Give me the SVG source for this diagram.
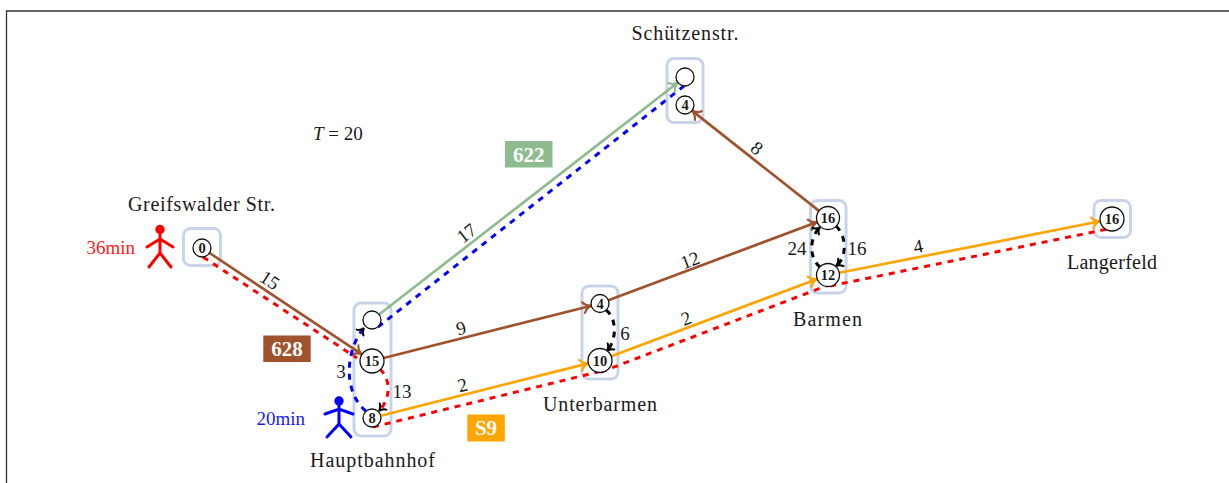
<svg xmlns="http://www.w3.org/2000/svg" width="1229" height="483" viewBox="0 0 1229 483">
<style>
  text { font-family: "Liberation Serif", "Times New Roman", serif; fill: #1a1a1a; }
  .st { font-size: 20px; text-anchor: middle; }
  .el { font-size: 19px; text-anchor: middle; }
  .nl { font-size: 14.5px; font-weight: bold; text-anchor: middle; }
  .tag { font-size: 21px; font-weight: bold; text-anchor: middle; fill: #ffffff; }
  .box { fill: none; stroke: #c8d5e9; stroke-width: 3; }
  .nd { fill: #ffffff; stroke: #111111; stroke-width: 1.3; }
  .brown { stroke: #a0522d; stroke-width: 2.7; fill: none; marker-end: url(#ah-brown); }
  .green { stroke: #8fbc8f; stroke-width: 2.7; fill: none; marker-end: url(#ah-green); }
  .orange { stroke: #ffa500; stroke-width: 2.7; fill: none; marker-end: url(#ah-orange); }
  .rdash { stroke: #ff0000; stroke-width: 3; fill: none; stroke-dasharray: 6 6; }
  .bdash { stroke: #0000ff; stroke-width: 3; fill: none; stroke-dasharray: 6 6; }
  .kdash { stroke: #000000; stroke-width: 3; fill: none; stroke-dasharray: 6 6; }
  .arcarrow { marker-end: url(#ah-black); }
  .fig { stroke-width: 3; fill: none; stroke-linecap: round; }
</style>
<defs>
  <marker id="ah-brown" viewBox="-10 -8 12 16" refX="0" refY="0" markerWidth="12" markerHeight="16" markerUnits="userSpaceOnUse" orient="auto">
    <path d="M-8,-5.5 C-6,-2 -3,-0.6 0,0 C-3,0.6 -6,2 -8,5.5" fill="none" stroke="#a0522d" stroke-width="2.2" stroke-linecap="round"/>
  </marker>
  <marker id="ah-green" viewBox="-10 -8 12 16" refX="0" refY="0" markerWidth="12" markerHeight="16" markerUnits="userSpaceOnUse" orient="auto">
    <path d="M-8,-5.5 C-6,-2 -3,-0.6 0,0 C-3,0.6 -6,2 -8,5.5" fill="none" stroke="#8fbc8f" stroke-width="2.2" stroke-linecap="round"/>
  </marker>
  <marker id="ah-orange" viewBox="-10 -8 12 16" refX="0" refY="0" markerWidth="12" markerHeight="16" markerUnits="userSpaceOnUse" orient="auto">
    <path d="M-8,-5.5 C-6,-2 -3,-0.6 0,0 C-3,0.6 -6,2 -8,5.5" fill="none" stroke="#ffa500" stroke-width="2.2" stroke-linecap="round"/>
  </marker>
  <marker id="ah-black" viewBox="-10 -8 12 16" refX="0" refY="0" markerWidth="12" markerHeight="16" markerUnits="userSpaceOnUse" orient="auto">
    <path d="M-6,-4.5 C-4.5,-1.5 -2.5,-0.5 0,0 C-2.5,0.5 -4.5,1.5 -6,4.5" fill="none" stroke="#000000" stroke-width="2" stroke-linecap="round"/>
  </marker>
</defs>

<rect width="1229" height="483" fill="#ffffff"/>
<path d="M6.5,490 V11 H1240" fill="none" stroke="#333333" stroke-width="1.3"/>

<g id="station-boxes">
  <rect id="box-greifswalder" class="box" x="183.5" y="228.5" width="37" height="37" rx="7"/>
  <rect id="box-hauptbahnhof" class="box" x="354" y="303" width="37" height="133" rx="7"/>
  <rect id="box-unterbarmen" class="box" x="582" y="286" width="36" height="93" rx="7"/>
  <rect id="box-barmen" class="box" x="810.5" y="200.5" width="35.5" height="92.5" rx="7"/>
  <rect id="box-schuetzenstr" class="box" x="667" y="58.5" width="36" height="64" rx="7"/>
  <rect id="box-langerfeld" class="box" x="1094" y="200.5" width="36.5" height="37" rx="7"/>
</g>

<g id="connectors">
  <line class="rdash" x1="203" y1="257" x2="357" y2="358"/>
  <line class="rdash" x1="373" y1="427" x2="598" y2="372"/>
  <line class="rdash" x1="601" y1="372" x2="826" y2="286"/>
  <line class="rdash" x1="830" y1="286" x2="1108" y2="229"/>
  <line class="bdash" x1="378" y1="327" x2="684" y2="86"/>
  <line class="brown" x1="209.5" y1="253" x2="362" y2="354.4"/>
  <line class="brown" x1="383.6" y1="358" x2="591.3" y2="305.7"/>
  <line class="brown" x1="608.4" y1="300.3" x2="817.2" y2="222"/>
  <line class="brown" x1="819" y1="210.9" x2="692" y2="110.6"/>
  <line class="green" x1="379.1" y1="314.5" x2="677.9" y2="82.5"/>
  <line class="orange" x1="380.7" y1="415.8" x2="588.4" y2="363.4"/>
  <line class="orange" x1="611.2" y1="356.3" x2="817.2" y2="279"/>
  <line class="orange" x1="839.3" y1="272.8" x2="1100.2" y2="221.3"/>
  <path class="bdash arcarrow" d="M366,411 C343,393 345,350 364,328"/>
  <path class="rdash arcarrow" d="M380,369 C391,380 391,398 379,411"/>
  <path class="kdash arcarrow" d="M606,310 C617,318 617,340 607,351"/>
  <path class="kdash arcarrow" d="M820,267 C809,258 809,238 820,227"/>
  <path class="kdash arcarrow" d="M836,226 C847,236 847,258 836,266"/>
  <text class="el" transform="translate(270,280) rotate(33.6)" dy="0.35em">15</text>
  <text class="el" transform="translate(466.5,233) rotate(-37.8)" dy="0.35em">17</text>
  <text class="el" transform="translate(757,148) rotate(38.3)" dy="0.35em">8</text>
  <text class="el" transform="translate(461,328) rotate(-14.2)" dy="0.35em">9</text>
  <text class="el" transform="translate(690,260) rotate(-20.6)" dy="0.35em">12</text>
  <text class="el" transform="translate(462.5,385) rotate(-14.2)" dy="0.35em">2</text>
  <text class="el" transform="translate(686,318) rotate(-20.6)" dy="0.35em">2</text>
  <text class="el" transform="translate(918,246) rotate(-11.2)" dy="0.35em">4</text>
  <text class="el" x="341" y="371" dy="0.35em">3</text>
  <text class="el" x="402" y="391" dy="0.35em">13</text>
  <text class="el" x="625" y="333" dy="0.35em">6</text>
  <text class="el" x="797" y="248" dy="0.35em">24</text>
  <text class="el" x="857" y="248" dy="0.35em">16</text>
  <rect x="263.3" y="335.5" width="47.4" height="26.5" fill="#a0522d"/>
  <text class="tag" x="287" y="356">628</text>
  <rect x="505" y="141" width="47.5" height="26.5" fill="#8fbc8f"/>
  <text class="tag" x="528.7" y="161.5">622</text>
  <rect x="467.3" y="414.5" width="37.5" height="27" fill="#ffa500"/>
  <text class="tag" x="486" y="435">S9</text>
</g>

<g id="node-greifswalder">
  <circle class="nd" cx="202" cy="248" r="9"/>
  <text class="nl" x="202" y="253">0</text>
  <text class="st" x="201.5" y="211" textLength="147" lengthAdjust="spacing">Greifswalder Str.</text>
</g>
<g id="node-hauptbahnhof">
  <circle class="nd" cx="372" cy="320" r="9"/>
  <circle class="nd" cx="372" cy="361" r="12"/>
  <text class="nl" x="372" y="366">15</text>
  <circle class="nd" cx="372" cy="418" r="9"/>
  <text class="nl" x="372" y="423">8</text>
  <text class="st" x="372.5" y="467" textLength="125" lengthAdjust="spacing">Hauptbahnhof</text>
</g>
<g id="node-unterbarmen">
  <circle class="nd" cx="600" cy="303.5" r="9"/>
  <text class="nl" x="600" y="308.5">4</text>
  <circle class="nd" cx="600" cy="360.5" r="12"/>
  <text class="nl" x="600" y="365.5">10</text>
  <text class="st" x="600" y="410.5" textLength="114" lengthAdjust="spacing">Unterbarmen</text>
</g>
<g id="node-barmen">
  <circle class="nd" cx="828" cy="218" r="11.5"/>
  <text class="nl" x="828" y="223">16</text>
  <circle class="nd" cx="828" cy="275" r="11.5"/>
  <text class="nl" x="828" y="280">12</text>
  <text class="st" x="827.5" y="325.5" textLength="69" lengthAdjust="spacing">Barmen</text>
</g>
<g id="node-schuetzenstr">
  <circle class="nd" cx="685" cy="77" r="9"/>
  <circle class="nd" cx="685" cy="105" r="9"/>
  <text class="nl" x="685" y="110">4</text>
  <text class="st" x="685" y="39.5" textLength="107" lengthAdjust="spacing">Schützenstr.</text>
</g>
<g id="node-langerfeld">
  <circle class="nd" cx="1112" cy="219" r="12"/>
  <text class="nl" x="1112" y="224">16</text>
  <text class="st" x="1112" y="269" textLength="90" lengthAdjust="spacing">Langerfeld</text>
</g>

<g id="traveler-red">
  <circle cx="160" cy="229.5" r="4.7" fill="#ff0000"/>
  <path class="fig" stroke="#ff0000" d="M160,233 V253 M147,247 L160,239 L173,247 M149,267 L160,253 L171,267"/>
  <text x="135" y="254" font-size="19" text-anchor="end" style="fill:#ff1a1a">36min</text>
</g>
<g id="traveler-blue">
  <circle cx="339" cy="401" r="4.7" fill="#0000ff"/>
  <path class="fig" stroke="#0000ff" d="M339,404 V424 M325,414 L339,409 L353,414 M327,437 L339,424 L351,437"/>
  <text x="305" y="425" font-size="19" text-anchor="end" style="fill:#1a1aff">20min</text>
</g>

<text id="time-label" x="313" y="140" font-size="19"><tspan font-style="italic">T</tspan> = 20</text>
</svg>
